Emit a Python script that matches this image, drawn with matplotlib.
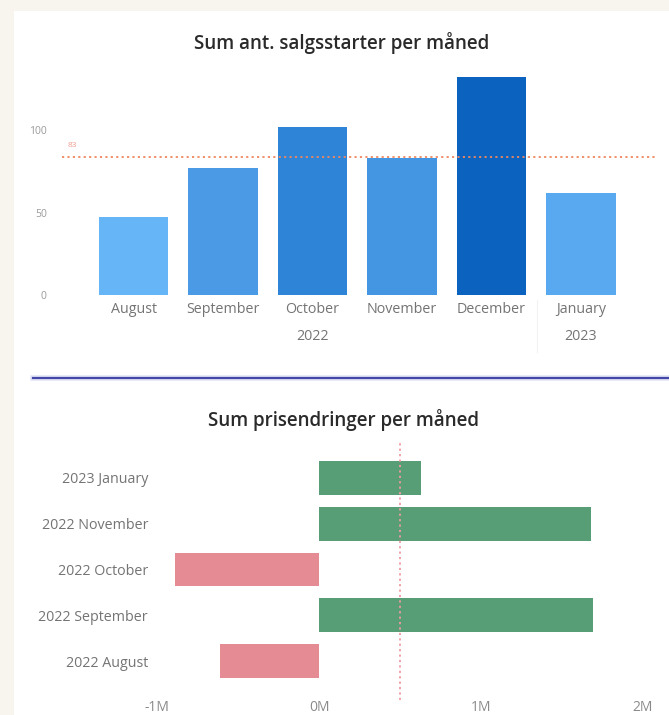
import matplotlib
matplotlib.use("Agg")
import matplotlib.pyplot as plt
from matplotlib.patches import Rectangle
from matplotlib.lines import Line2D
import matplotlib.transforms as mtransforms

# ---- data ----
months_top = ["August", "September", "October", "November", "December", "January"]
years_top = ["2022", "2023"]
sales_starts = [47, 77, 102, 83, 132, 62]
bar_colors_top = ["#66b5f7", "#4a9ae5", "#2e84d6", "#4495e2", "#0c62bf", "#59a9f0"]

months_bottom = ["2022 August", "2022 September", "2022 October", "2022 November", "2023 January"]
price_changes = [-0.61, 1.69, -0.89, 1.68, 0.63]  # millions
xticks_bottom = [-1, 0, 1, 2]
xtick_labels_bottom = ["-1M", "0M", "1M", "2M"]

W, H = 669, 715
DPI = 100
fig = plt.figure(figsize=(W / DPI, H / DPI), dpi=DPI)
fig.patch.set_facecolor("#f8f4ee")

def px_axes(left, top, right, bottom):
    return fig.add_axes([left / W, 1 - bottom / H, (right - left) / W, (bottom - top) / H])

# white panel
fig.add_artist(Rectangle((14 / W, 0), 1 - 14 / W, 1 - 11 / H, transform=fig.transFigure,
                         facecolor="white", edgecolor="none", zorder=0))

FONT = ["Open Sans", "DejaVu Sans"]
TITLE_FONT = ["Open Sans", "DejaVu Sans"]
TICK_COLOR = "#747474"

# ---- top chart ----
ax1 = px_axes(62, 70, 657, 295)
ax1.set_facecolor("none")
x = list(range(len(months_top)))
ax1.bar(x, sales_starts, width=0.78, color=bar_colors_top, zorder=2)
mean_val = sum(sales_starts) / len(sales_starts)
ax1.axhline(mean_val, color="#f0875f", linestyle=(0, (1.2, 1.8)), linewidth=1.3, zorder=3)
ax1.text(0.01, mean_val + 7, f"{int(mean_val)}", transform=mtransforms.blended_transform_factory(ax1.transAxes, ax1.transData),
         color="#f0a090", fontsize=6, family=FONT, va="center", ha="left")
ax1.set_xlim(-0.8, 5.85)
ax1.set_ylim(0, 136.4)
ax1.set_yticks([0, 50, 100])
ax1.set_yticklabels(["0", "50", "100"], color="#9a9a9a", fontsize=7.5, family=FONT)
ax1.set_xticks(x)
ax1.set_xticklabels(months_top, color=TICK_COLOR, fontsize=10.3, family=FONT)
ax1.tick_params(axis="both", length=0)
ax1.tick_params(axis="y", pad=11)
ax1.tick_params(axis="x", pad=5)
for s in ax1.spines.values():
    s.set_visible(False)
tr = mtransforms.blended_transform_factory(ax1.transData, fig.transFigure)
ax1.text(2, 1 - 337 / H, years_top[0], transform=tr, ha="center", va="center",
         color=TICK_COLOR, fontsize=10.3, family=FONT)
ax1.text(5, 1 - 337 / H, years_top[1], transform=tr, ha="center", va="center",
         color=TICK_COLOR, fontsize=10.3, family=FONT)
fig.add_artist(Line2D([537 / W, 537 / W], [1 - 352 / H, 1 - 300 / H], transform=fig.transFigure,
                      color="#f2f2f2", linewidth=0.8))
fig.text(342 / W, 1 - 43 / H, "Sum ant. salgsstarter per måned", ha="center", va="center",
         fontsize=13.5, fontweight="semibold", color="#2a2a2a", family=TITLE_FONT)

# separator
fig.add_artist(Line2D([33 / W, 1], [1 - 378 / H, 1 - 378 / H], transform=fig.transFigure,
                      color="#e2e5f7", linewidth=4))
fig.add_artist(Line2D([33 / W, 1], [1 - 378 / H, 1 - 378 / H], transform=fig.transFigure,
                      color="#4447a8", linewidth=1.6))

# ---- bottom chart ----
ax2 = px_axes(155, 440, 660, 700)
ax2.set_facecolor("none")
y = list(range(len(months_bottom)))
colors_b = ["#579d76" if v >= 0 else "#e58b93" for v in price_changes]
ax2.barh(y, price_changes, height=0.74, color=colors_b, zorder=2)
mean_b = sum(price_changes) / len(price_changes)
ax2.axvline(mean_b, color="#ef9aa0", linestyle=(0, (1.2, 1.8)), linewidth=1.3, zorder=3)
ax2.set_xlim((155 - 319) / 162, (660 - 319) / 162)
ax2.set_ylim(-0.85, 4.83)
ax2.set_yticks(y)
ax2.set_yticklabels(months_bottom, color=TICK_COLOR, fontsize=10.3, family=FONT)
ax2.set_xticks(xticks_bottom)
ax2.set_xticklabels(xtick_labels_bottom, color="#8a8a8a", fontsize=10, family=FONT)
ax2.tick_params(axis="both", length=0)
ax2.tick_params(axis="y", pad=5)
ax2.tick_params(axis="x", pad=0)
for s in ax2.spines.values():
    s.set_visible(False)
fig.text(343 / W, 1 - 420 / H, "Sum prisendringer per måned", ha="center", va="center",
         fontsize=13.5, fontweight="semibold", color="#2a2a2a", family=TITLE_FONT)

fig.savefig("out.png", dpi=DPI, facecolor=fig.get_facecolor())
